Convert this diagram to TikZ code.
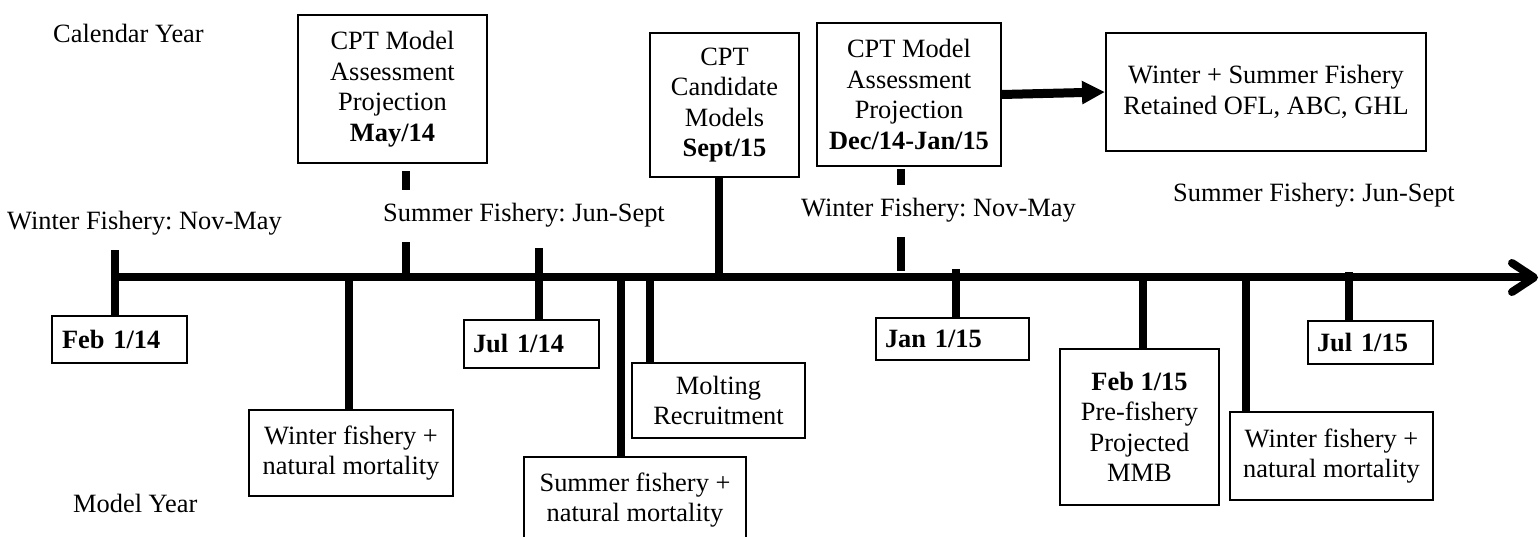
\documentclass[tikz,border=0pt]{standalone}
\usepackage{fontspec}
\setmainfont{Liberation Serif}
\usetikzlibrary{arrows.meta}
\frenchspacing
\begin{document}
\begin{tikzpicture}[x=1pt,y=-1pt,
  every node/.style={font=\fontsize{26.4pt}{30.5pt}\selectfont},
  box/.style={draw, line width=2pt, align=center, inner sep=0pt},
  datebox/.style={draw, line width=2pt, align=left, inner ysep=0pt,
    font=\fontsize{26.4pt}{30.5pt}\selectfont\bfseries},
  lbl/.style={inner xsep=0pt, inner ysep=0pt, anchor=base west},
  masklbl/.style={lbl, fill=white, inner ysep=14pt},
  tick/.style={line width=7.5pt},
  axisline/.style={line width=8pt},
  bigarrow/.style={line width=9pt, -{Triangle[length=23pt 0, width=22pt 0]}},
]
\useasboundingbox (0,0) rectangle (1540,537);

% upper boxes
\node[box, minimum width=189pt, minimum height=148pt] (A) at (392.5,89)
  {CPT Model\\Assessment\\Projection\\\textbf{May/14}};
\node[box, minimum width=149pt, minimum height=144pt] (B) at (724.5,105)
  {CPT\\Candidate\\Models\\\textbf{Sept/15}};
\node[box, minimum width=184pt, minimum height=143pt] (C) at (909,94.5)
  {CPT Model\\Assessment\\Projection\\\textbf{Dec/14-Jan/15}};
\node[box, minimum width=320pt, minimum height=118pt] (D) at (1266,92)
  {Winter + Summer Fishery\\Retained OFL, ABC, GHL};

% lower boxes
\node[box, minimum width=204pt, minimum height=86pt] (W1) at (351,453)
  {Winter fishery +\\natural mortality};
\node[box, minimum width=222pt, minimum height=86pt] (S2) at (635,500)
  {Summer fishery +\\natural mortality};
\node[box, minimum width=173pt, minimum height=75pt] (M) at (718.5,400.5)
  {Molting\\Recruitment};
\node[box, minimum width=159pt, minimum height=156pt] (F15) at (1139.5,427)
  {\textbf{Feb 1/15}\\Pre-fishery\\Projected\\MMB};
\node[box, minimum width=203pt, minimum height=88pt] (W3) at (1331.5,456)
  {Winter fishery +\\natural mortality};

% date boxes
\node[datebox, inner xsep=10pt, text width=115pt, minimum height=47pt] (F14) at (119.5,339.5) {Feb 1/14};
\node[datebox, inner xsep=9pt, text width=117pt, minimum height=48pt] (J14) at (531.5,344) {Jul 1/14};
\node[datebox, inner xsep=9pt, text width=135pt, minimum height=42pt] (JA15) at (952.5,339) {Jan 1/15};
\node[datebox, inner xsep=9pt, text width=107pt, minimum height=43pt] (JU15) at (1370.5,342.5) {Jul 1/15};

% axis
\coordinate (axL) at (111.5,277.5);
\coordinate (axR) at (1534,277.5);
\coordinate (chevT) at (1512,263);
\coordinate (chevB) at (1512,292);
\draw[axisline] (axL) -- (axR);
\draw[axisline, line cap=round, line join=round] (chevT) -- (axR) -- (chevB);

% tick positions
\coordinate (xF14) at (115,247);
\coordinate (xW1) at (349,277.5);
\coordinate (xJ14) at (539,248);
\coordinate (xS2) at (621,277.5);
\coordinate (xM) at (650,277.5);
\coordinate (xB) at (719,277.5);
\coordinate (xA) at (406,277.5);
\coordinate (xC) at (901,271);
\coordinate (xJA) at (956,269);
\coordinate (xF15) at (1143,277.5);
\coordinate (xW3) at (1246,277.5);
\coordinate (xJU) at (1349,272);

\draw[tick] (xF14) -- (xF14 |- F14.north);
\draw[tick] (xW1) -- (xW1 |- W1.north);
\draw[tick] (xJ14) -- (xJ14 |- J14.north);
\draw[tick] (xS2) -- (xS2 |- S2.north);
\draw[tick] (xM) -- (xM |- M.north);
\draw[tick] (B.south -| xB) -- (xB);
\draw[tick] ([yshift=-7pt]A.south -| xA) -- (xA);
\draw[tick] ([yshift=-2pt]C.south -| xC) -- (xC);
\draw[tick] (xJA) -- (xJA |- JA15.north);
\draw[tick] (xF15) -- (xF15 |- F15.north);
\draw[tick] (xW3) -- (xW3 |- W3.north);
\draw[tick] (xJU) -- (xJU |- JU15.north);

% arrow
\draw[bigarrow] (C.east) -- (D.west);

% labels
\node[lbl] (cal) at (53,43) {Calendar Year};
\node[lbl] (mod) at (73,512) {Model Year};
\node[masklbl] (wf1) at (7,230) {Winter Fishery: Nov-May};
\node[masklbl] (sf1) at (383,222) {Summer Fishery: Jun-Sept};
\node[masklbl] (wf2) at (801,217) {Winter Fishery: Nov-May};
\node[masklbl] (sf2) at (1173,202) {Summer Fishery: Jun-Sept};
\end{tikzpicture}
\end{document}
